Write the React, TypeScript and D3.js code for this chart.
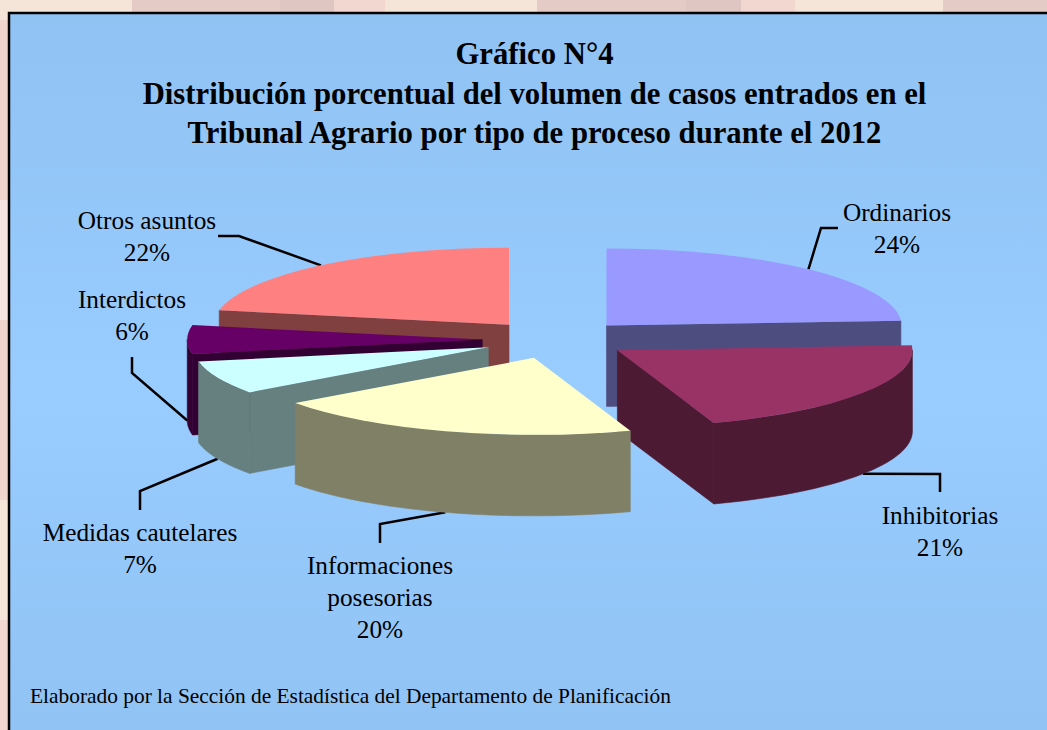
import React from "react";
import * as d3 from "d3";

// data (labels round these to whole percents)
const categories = ["Ordinarios", "Inhibitorias", "Informaciones posesorias", "Medidas cautelares", "Interdictos", "Otros asuntos"];
const shares = [24.0, 20.7, 20.3, 7.0, 6.0, 22.0];
const topColors = ["#9999ff", "#993366", "#ffffcc", "#ccffff", "#660066", "#ff8080"];
const wallColors = ["#4d4d80", "#4d1a33", "#808066", "#668080", "#330033", "#804040"];

const titleLines = [
  "Gráfico N°4",
  "Distribución porcentual del volumen de casos entrados en el",
  "Tribunal Agrario por tipo de proceso durante el 2012",
];
const footer = "Elaborado por la Sección de Estadística del Departamento de Planificación";

// label layout: text lines, text centre, first line baseline, leader elbows
const labelLines = [["Ordinarios"], ["Inhibitorias"], ["Informaciones", "posesorias"], ["Medidas cautelares"], ["Interdictos"], ["Otros asuntos"]];
const labelX = [897, 940, 380, 140, 132, 147];
const labelY = [221, 524, 574, 541, 308, 229];
const leaderElbows = [
  [[838, 228], [821, 228]],
  [[940, 492], [940, 474]],
  [[380, 543], [380, 524]],
  [[140, 510], [140, 491]],
  [[132, 357], [132, 373]],
  [[218, 236], [239, 236]],
];

// page behind the panel
const backdropTop = [
  [0, 132, "#f5e4d8"], [132, 280, "#e4cbc6"], [280, 334, "#dfc6c2"], [334, 385, "#f2d6d0"], [385, 537, "#f5e4d8"],
  [537, 686, "#e4cbc6"], [686, 741, "#dfc6c2"], [741, 795, "#f2d6d0"], [795, 943, "#f5e4d8"], [943, 1047, "#e4cbc6"],
];
const backdropLeft = [
  [0, 20, "#f5e4d8"], [20, 200, "#f0d5cf"], [200, 320, "#f5e4e0"], [320, 500, "#f0d5cf"], [500, 620, "#f5e4d8"], [620, 730, "#f2d6d0"],
];

const width = 1047;
const height = 730;
const cx = 556;
const cy = 339.5;
const rx = 295;
const ry = 77;
const depth = 81;
const pull = 0.25; // explosion, as a fraction of the radius

const serif = "'Liberation Serif', serif";

const x = d3.scaleLinear().domain([-1, 1]).range([cx - rx, cx + rx]);
const y = d3.scaleLinear().domain([-1, 1]).range([cy - ry, cy + ry]);

// point on the (flattened) unit circle, 0 at twelve o'clock, clockwise
const project = (angle: number, r = 1, ox = 0, oy = 0): [number, number] => [
  x(ox + r * Math.sin(angle)),
  y(oy - r * Math.cos(angle)),
];

const line = d3.line();
const arcGen = d3.arc();
const pct = d3.format(".0%");

const pieData = d3.pie<number>().sort(null)(shares);
const HALF = Math.PI / 2;

const slices = pieData.map((p, i) => {
  const a0 = p.startAngle;
  const a1 = p.endAngle;
  const mid = (a0 + a1) / 2;
  const ox = pull * Math.sin(mid);
  const oy = -pull * Math.cos(mid);
  const apex = project(0, 0, ox, oy);

  const walls: string[] = [];
  const down = (pt: [number, number]): [number, number] => [pt[0], pt[1] + depth];

  const radial = (a: number) => {
    const rim = project(a, 1, ox, oy);
    return line([apex, rim, down(rim), down(apex)]) + "Z";
  };
  // cut faces only show if their outward normal looks at the viewer
  if (-Math.cos(a0 - HALF) > 0) walls.push(radial(a0));
  if (-Math.cos(a1 + HALF) > 0) walls.push(radial(a1));

  // outer wall: only the front half of the rim
  const w0 = Math.max(a0, HALF);
  const w1 = Math.min(a1, 3 * HALF);
  if (w1 > w0) {
    const rim = d3.quantize(d3.interpolateNumber(w0, w1), 48).map((a) => project(a, 1, ox, oy));
    walls.push(line([...rim, ...rim.slice().reverse().map(down)]) + "Z");
  }

  const top = arcGen({ innerRadius: 0, outerRadius: rx, startAngle: a0, endAngle: a1 } as any) as string;

  // leader meets the rim at mid angle, at the wall's foot on the front half
  const anchor = project(mid, 1, ox, oy);
  const front = Math.cos(mid) <= 0.0001;
  const leaderEnd: [number, number] = front ? down(anchor) : anchor;

  return { i, mid, apex, walls, top, leaderEnd };
});

// painter's order: back slices first
const drawOrder = slices.slice().sort((a, b) => -Math.cos(a.mid) + Math.cos(b.mid));

export default function App() {
  return (
    <svg width={width} height={height} viewBox={`0 0 ${width} ${height}`} style={{ position: "absolute", left: 0, top: 0, display: "block" }} fontFamily={serif}>
      <defs>
        <linearGradient id="panel" x1="0" y1="0" x2="0" y2="1">
          <stop offset="0" stopColor="#90c2f3" />
          <stop offset="0.5" stopColor="#99ccff" />
          <stop offset="1" stopColor="#90c2f3" />
        </linearGradient>
      </defs>

      {backdropTop.map(([a, b, c]) => (
        <rect key={`t${a}`} x={a as number} y={0} width={(b as number) - (a as number)} height={14} fill={c as string} />
      ))}
      {backdropLeft.map(([a, b, c]) => (
        <rect key={`l${a}`} x={0} y={a as number} width={9} height={(b as number) - (a as number)} fill={c as string} />
      ))}

      <rect x={9} y={13} width={width + 20} height={height + 20} fill="url(#panel)" stroke="#000" strokeWidth={2.5} />

      {titleLines.map((t, i) => (
        <text key={t} x={534.5} y={64 + i * 39.5} textAnchor="middle" fontSize={30.7} fontWeight="bold" fill="#000">
          {t}
        </text>
      ))}

      {slices.map((s) => (
        <polyline key={s.i} fill="none" stroke="#000" strokeWidth={2.5} points={[...leaderElbows[s.i], s.leaderEnd].join(" ")} />
      ))}

      {drawOrder.map((s) => (
        <g key={categories[s.i]}>
          {s.walls.map((d, k) => (
            <path key={k} d={d} fill={wallColors[s.i]} stroke={wallColors[s.i]} strokeWidth={0.6} />
          ))}
          <path d={s.top} fill={topColors[s.i]} transform={`translate(${s.apex[0]},${s.apex[1]}) scale(1,${ry / rx})`} />
        </g>
      ))}

      {categories.map((c, i) => {
        const lines = [...labelLines[i], pct(shares[i] / 100)];
        return (
          <text key={c} textAnchor="middle" fontSize={25.3} fill="#000">
            {lines.map((t, k) => (
              <tspan key={k} x={labelX[i]} y={labelY[i] + k * 32}>
                {t}
              </tspan>
            ))}
          </text>
        );
      })}

      <text x={30} y={703} fontSize={21.4} fill="#000">
        {footer}
      </text>
    </svg>
  );
}
